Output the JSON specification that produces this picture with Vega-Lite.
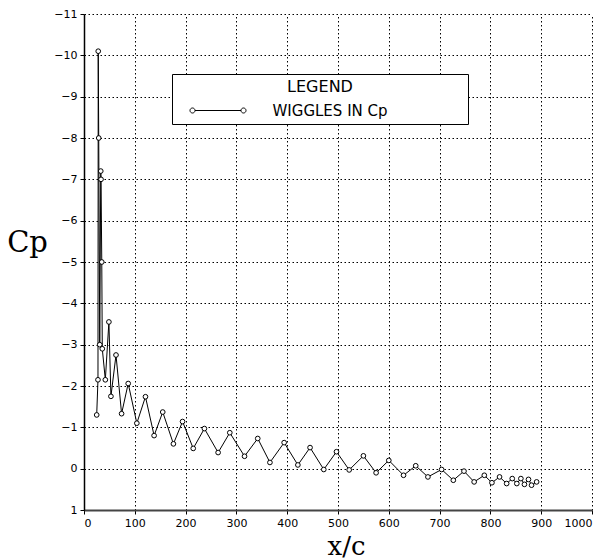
{
  "$schema": "https://vega.github.io/schema/vega-lite/v6.json",
  "width": 508,
  "height": 496,
  "autosize": {"type": "none"},
  "padding": {"left": 84, "top": 14, "right": 20, "bottom": 49},
  "background": "white",
  "data": {"values": [
    {"i": 0, "x": 25, "y": -1.3},
    {"i": 1, "x": 27.5, "y": -2.15},
    {"i": 2, "x": 28, "y": -10.1},
    {"i": 3, "x": 29, "y": -8.0},
    {"i": 4, "x": 31, "y": -3.0},
    {"i": 5, "x": 33, "y": -7.2},
    {"i": 6, "x": 33.5, "y": -7.0},
    {"i": 7, "x": 35, "y": -5.0},
    {"i": 8, "x": 36, "y": -2.9},
    {"i": 9, "x": 42, "y": -2.15},
    {"i": 10, "x": 49, "y": -3.55},
    {"i": 11, "x": 53, "y": -1.75},
    {"i": 12, "x": 63, "y": -2.75},
    {"i": 13, "x": 74, "y": -1.33},
    {"i": 14, "x": 87, "y": -2.06},
    {"i": 15, "x": 104, "y": -1.1},
    {"i": 16, "x": 121, "y": -1.74},
    {"i": 17, "x": 138, "y": -0.8},
    {"i": 18, "x": 155, "y": -1.37},
    {"i": 19, "x": 176, "y": -0.6},
    {"i": 20, "x": 194, "y": -1.14},
    {"i": 21, "x": 215, "y": -0.49},
    {"i": 22, "x": 237, "y": -0.97},
    {"i": 23, "x": 264, "y": -0.39},
    {"i": 24, "x": 287, "y": -0.87},
    {"i": 25, "x": 316, "y": -0.3},
    {"i": 26, "x": 342, "y": -0.73},
    {"i": 27, "x": 366, "y": -0.15},
    {"i": 28, "x": 394, "y": -0.63},
    {"i": 29, "x": 421, "y": -0.09},
    {"i": 30, "x": 445, "y": -0.51},
    {"i": 31, "x": 472, "y": 0.02},
    {"i": 32, "x": 497, "y": -0.41},
    {"i": 33, "x": 522, "y": 0.03},
    {"i": 34, "x": 550, "y": -0.31},
    {"i": 35, "x": 575, "y": 0.1},
    {"i": 36, "x": 600, "y": -0.2},
    {"i": 37, "x": 629, "y": 0.16},
    {"i": 38, "x": 653, "y": -0.07},
    {"i": 39, "x": 677, "y": 0.2},
    {"i": 40, "x": 704, "y": 0.02},
    {"i": 41, "x": 727, "y": 0.28},
    {"i": 42, "x": 748, "y": 0.06},
    {"i": 43, "x": 768, "y": 0.32},
    {"i": 44, "x": 788, "y": 0.16},
    {"i": 45, "x": 803, "y": 0.34},
    {"i": 46, "x": 818, "y": 0.2},
    {"i": 47, "x": 832, "y": 0.36},
    {"i": 48, "x": 843, "y": 0.24},
    {"i": 49, "x": 852, "y": 0.36},
    {"i": 50, "x": 860, "y": 0.24},
    {"i": 51, "x": 867, "y": 0.38},
    {"i": 52, "x": 875, "y": 0.26},
    {"i": 53, "x": 881, "y": 0.4},
    {"i": 54, "x": 891, "y": 0.32}
  ]},
  "layer": [
    {
      "mark": {"type": "line", "strokeWidth": 1},
      "encoding": {
        "x": {"field": "x", "type": "quantitative",
          "scale": {"domain": [0, 1000], "nice": false, "zero": false},
          "axis": {"values": [0,100,200,300,400,500,600,700,800,900,1000], "format": "d",
            "title": "x/c", "titleFont": "DejaVu Serif", "titleFontSize": 26, "titleFontWeight": "normal",
            "titleX": 262, "titleY": 44, "titleBaseline": "alphabetic", "titleAlign": "center",
            "domainWidth": 2, "domainColor": "#444"}},
        "y": {"field": "y", "type": "quantitative",
          "scale": {"domain": [-11, 1], "reverse": true, "nice": false, "zero": false},
          "axis": {"values": [-11,-10,-9,-8,-7,-6,-5,-4,-3,-2,-1,0,1], "format": "d",
            "title": "Cp", "titleFont": "DejaVu Serif", "titleFontSize": 29, "titleFontWeight": "normal",
            "titleAngle": 0, "titleX": -57, "titleY": 237, "titleBaseline": "alphabetic", "titleAlign": "center",
            "domainWidth": 1.5, "domainColor": "black"}},
        "order": {"field": "i", "type": "quantitative"},
        "color": {"datum": "WIGGLES IN Cp", "type": "nominal",
          "scale": {"range": ["black"]},
          "legend": {
            "title": "LEGEND", "orient": "none", "legendX": 88, "legendY": 60,
            "padding": 5, "fillColor": "white", "strokeColor": "black",
            "titleAnchor": "middle", "titleAlign": "center",
            "titleFont": "DejaVu Sans", "titleFontSize": 16, "titleFontWeight": "normal", "titleColor": "black",
            "titlePadding": 8,
            "labelFont": "DejaVu Sans", "labelFontSize": 15, "labelColor": "black",
            "labelOffset": 47, "symbolOffset": 33.5, "symbolSize": 144,
            "symbolType": "M-3.833,0H3.833M-4.667,0A0.417,0.417,0,1,1,-3.833,0A0.417,0.417,0,1,1,-4.667,0ZM4.667,0A0.417,0.417,0,1,1,3.833,0A0.417,0.417,0,1,1,4.667,0ZM40.5,0",
            "symbolStrokeColor": "black", "symbolFillColor": "white", "symbolStrokeWidth": 1
          }}
      }
    },
    {
      "mark": {"type": "point", "shape": "circle", "filled": true, "fill": "white", "stroke": "black", "strokeWidth": 1, "size": 22, "opacity": 1},
      "encoding": {
        "x": {"field": "x", "type": "quantitative"},
        "y": {"field": "y", "type": "quantitative"}
      }
    }
  ],
  "config": {
    "view": {"stroke": null},
    "axis": {
      "grid": true, "gridColor": "black", "gridDash": [1.5, 2.5], "gridWidth": 1, "gridOpacity": 1,
      "tickColor": "black", "tickSize": 4, "labelPadding": 3,
      "labelFont": "DejaVu Sans", "labelFontSize": 11, "labelColor": "black", "titleColor": "black"
    }
  }
}
